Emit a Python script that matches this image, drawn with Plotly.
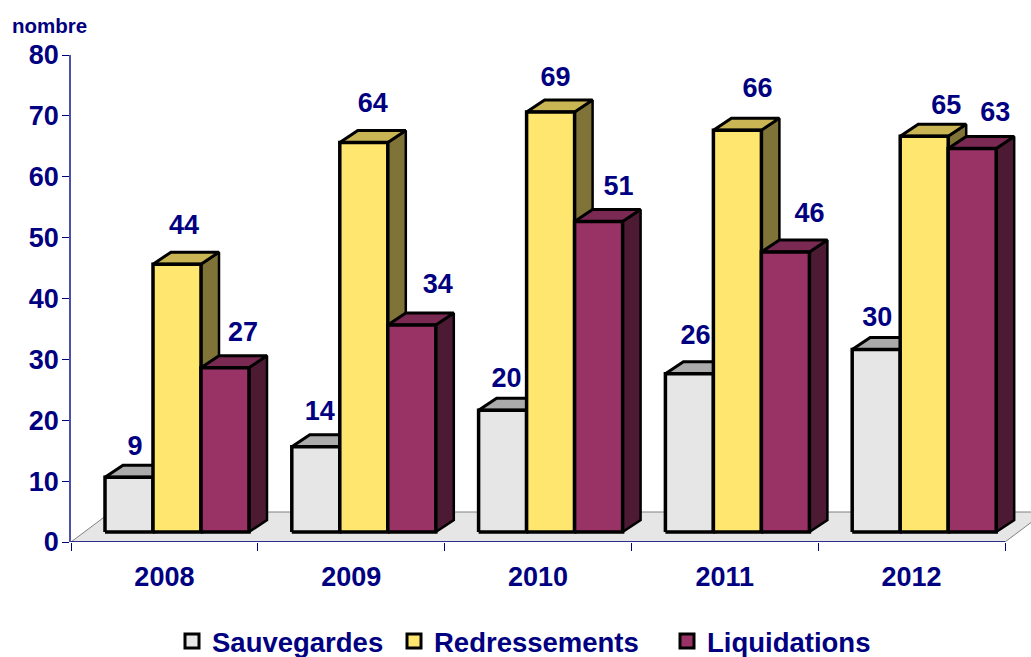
import plotly.graph_objects as go

years = ["2008", "2009", "2010", "2011", "2012"]
series_names = ["Sauvegardes", "Redressements", "Liquidations"]
sauvegardes = [9, 14, 20, 26, 30]
redressements = [44, 64, 69, 66, 65]
liquidations = [27, 34, 51, 46, 63]
y_ticks = [0, 10, 20, 30, 40, 50, 60, 70, 80]

NAVY = "#000080"
FONT = "Liberation Sans"

# pixel scale of the plot area, used to fake the 3D depth
PX_X = 186.8
PX_Y = 6.0875
PLOT_L = 71
PLOT_T = 55
PLOT_B = 542
WIDTH = 1031
HEIGHT = 657

BAR_W = 48 / PX_X
GROUP_LEFT = 34 / PX_X
DEPTH_X = 18 / PX_X
DEPTH_Y = 12 / PX_Y
BASE = 10 / PX_Y

# (front, top, side) colours per series
face_colors = [
    ("#E6E6E6", "#ABABAB", "#737373"),
    ("#FFE66E", "#C9B553", "#7F7337"),
    ("#993366", "#7A2952", "#4D1A33"),
]

# the data labels were placed by hand in the original, so keep their pixel nudges
label_dx = [
    [6, 4, 4, 6, 1],
    [7, 9, 5, 20, 22],
    [18, 26, 20, 24, 23],
]
label_dy = [
    [29, 34, 30, 36, 30],
    [37, 37, 33, 40, 29],
    [33, 39, 33, 37, 34],
]


def add_poly(fig, xs, ys, color, width=2.5):
    fig.add_trace(go.Scatter(
        x=xs + xs[:1], y=ys + ys[:1],
        mode="lines", fill="toself", fillcolor=color,
        line=dict(color="black", width=width),
        hoverinfo="skip", showlegend=False,
    ))


def add_bar(fig, i, s, value):
    front, top, side = face_colors[s]
    x0 = i - 0.5 + GROUP_LEFT + s * BAR_W
    x1 = x0 + BAR_W
    y1 = BASE + value
    # side and top first, the front face goes over them
    add_poly(fig, [x1, x1 + DEPTH_X, x1 + DEPTH_X, x1],
             [BASE, BASE + DEPTH_Y, y1 + DEPTH_Y, y1], side, 2.5)
    add_poly(fig, [x0, x0 + DEPTH_X, x1 + DEPTH_X, x1],
             [y1, y1 + DEPTH_Y, y1 + DEPTH_Y, y1], top, 3)
    add_poly(fig, [x0, x1, x1, x0], [BASE, BASE, y1, y1], front, 3.5)


fig = go.Figure()

# floor of the 3D box
floor_depth = 30 / PX_Y
floor_x = 40 / PX_X
fig.add_trace(go.Scatter(
    x=[-0.5, -0.5 + floor_x, 4.5 + floor_x, 4.5, -0.5],
    y=[0, floor_depth, floor_depth, 0, 0],
    mode="lines", fill="toself", fillcolor="#E6E6E6",
    line=dict(color="#808080", width=1),
    hoverinfo="skip", showlegend=False,
))

all_values = [sauvegardes, redressements, liquidations]
for i in range(len(years)):
    for s, values in enumerate(all_values):
        add_bar(fig, i, s, values[i])

# data labels
for s, values in enumerate(all_values):
    fig.add_trace(go.Scatter(
        x=[i - 0.5 + GROUP_LEFT + (s + 0.5) * BAR_W + label_dx[s][i] / PX_X for i in range(len(years))],
        y=[BASE + values[i] + label_dy[s][i] / PX_Y for i in range(len(years))],
        mode="text",
        text=[str(v) for v in values],
        textposition="middle center",
        textfont=dict(family=FONT, size=27, color=NAVY, weight=700),
        hoverinfo="skip", showlegend=False, cliponaxis=False,
    ))

# legend swatches, one legend each so the entries sit where the original has them
legend_left = [172, 394, 667]
legend_names = ["legend", "legend2", "legend3"]
for s, name in enumerate(series_names):
    fig.add_trace(go.Scatter(
        x=[None], y=[None], mode="markers", name=name,
        marker=dict(symbol="square", size=14, color=face_colors[s][0],
                    line=dict(color="black", width=3)),
        legend=legend_names[s],
    ))

plot_w = WIDTH - PLOT_L
plot_h = PLOT_B - PLOT_T


def legend_box(left):
    return dict(
        x=(left - PLOT_L) / plot_w, xanchor="left",
        y=(PLOT_B - 641) / plot_h, yanchor="middle",
        bgcolor="rgba(0,0,0,0)", borderwidth=0,
        font=dict(family=FONT, size=27.5, color=NAVY, weight=700),
    )


fig.update_layout(
    width=WIDTH, height=HEIGHT,
    margin=dict(l=PLOT_L, r=0, t=PLOT_T, b=HEIGHT - PLOT_B, autoexpand=False),
    paper_bgcolor="white", plot_bgcolor="white",
    font=dict(family=FONT, color=NAVY),
    legend=legend_box(legend_left[0]),
    legend2=legend_box(legend_left[1]),
    legend3=legend_box(legend_left[2]),
    xaxis=dict(
        range=[-0.5, -0.5 + plot_w / PX_X],
        tickmode="array", tickvals=list(range(len(years))), ticktext=years,
        ticks="", showgrid=False, zeroline=False, showline=False,
        ticklabelstandoff=16,
        tickfont=dict(family=FONT, size=27, color=NAVY, weight=700),
        minor=dict(
            tickmode="array", tickvals=[i - 0.5 for i in range(len(years) + 1)],
            ticks="outside", ticklen=8, tickwidth=1, tickcolor=NAVY, showgrid=False,
        ),
    ),
    yaxis=dict(
        range=[0, 80], tickmode="array", tickvals=y_ticks,
        ticks="outside", ticklen=7, tickwidth=1, tickcolor=NAVY,
        ticklabelstandoff=-2,
        showgrid=False, zeroline=False,
        showline=True, linecolor="#5050A8", linewidth=1.5,
        tickfont=dict(family=FONT, size=27, color=NAVY, weight=700),
    ),
    annotations=[dict(
        text="nombre", xref="paper", yref="paper",
        x=(9.5 - PLOT_L) / plot_w, xanchor="left",
        y=(PLOT_B - 25.5) / plot_h, yanchor="middle",
        showarrow=False,
        font=dict(family=FONT, size=20.5, color=NAVY, weight=700),
    )],
    shapes=[dict(
        type="line", xref="x", yref="y", x0=-0.5, x1=4.5, y0=0, y1=0,
        line=dict(color=NAVY, width=1.5),
    )],
)

fig.write_html("out.html", config=dict(displayModeBar=False),
               post_script="document.body.style.margin='0';")
